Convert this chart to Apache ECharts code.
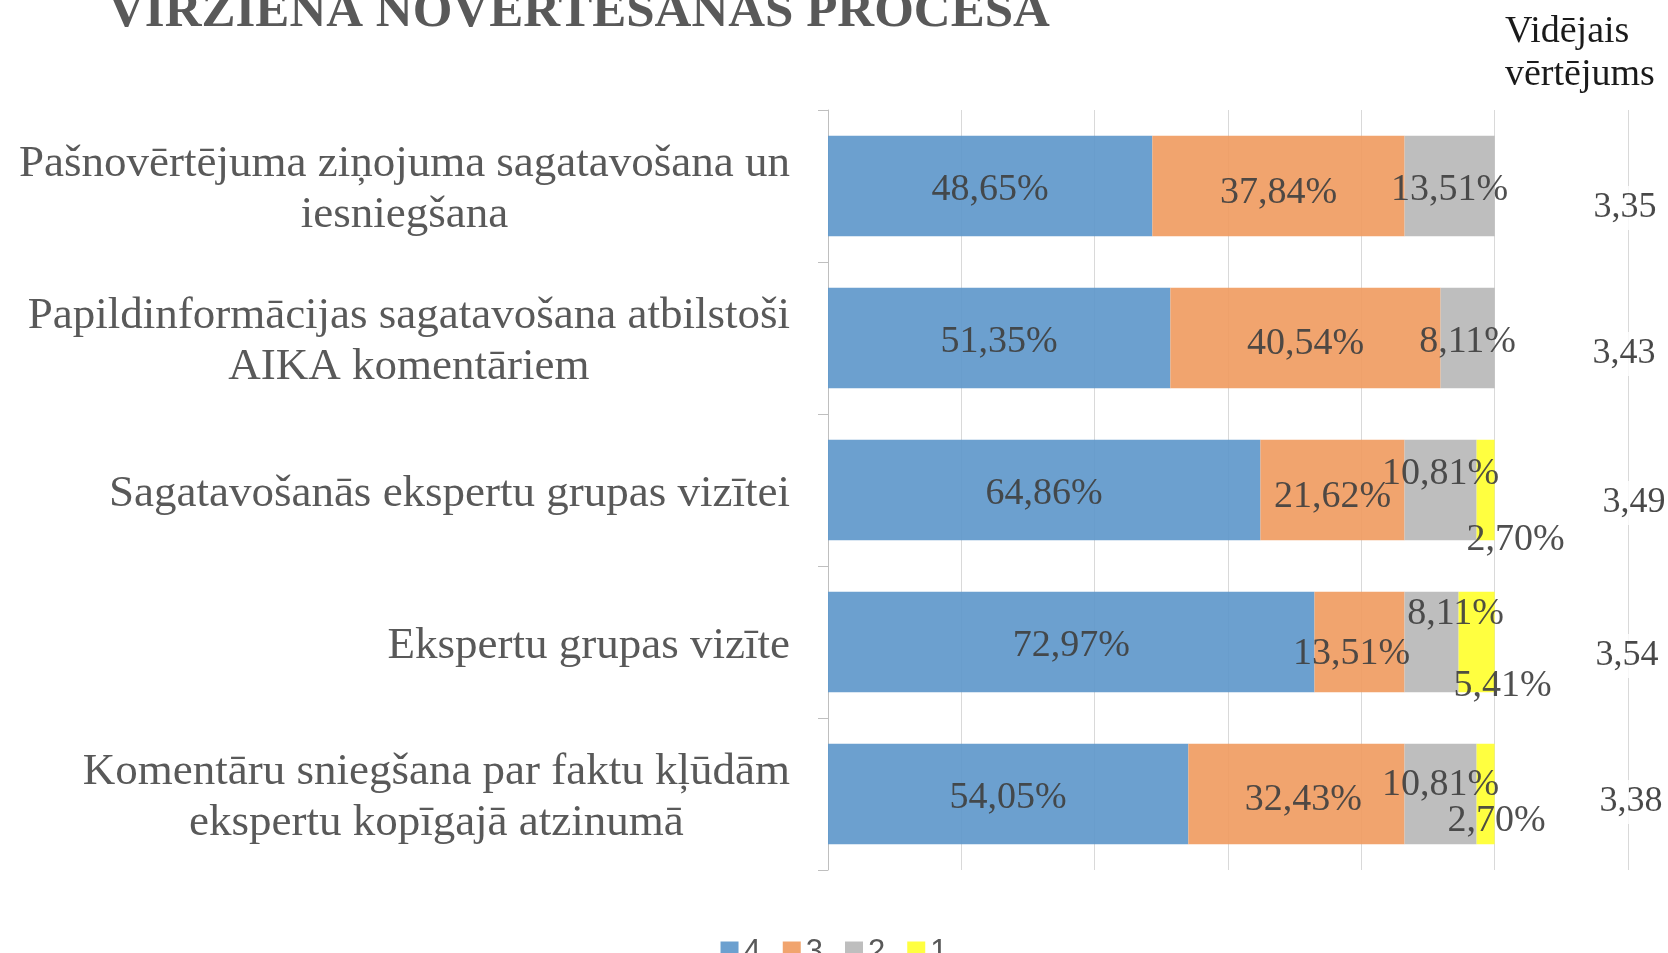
<!DOCTYPE html>
<html>
<head>
<meta charset="utf-8">
<script src="https://cdn.jsdelivr.net/npm/echarts@6/dist/echarts.min.js"></script>
<style>
  html, body { margin: 0; padding: 0; background: #fff; }
  #main { width: 1668px; height: 953px; }
</style>
</head>
<body>
<div id="main"></div>
<script>
// categories, top to bottom
var categories = [
    'Pašnovērtējuma ziņojuma sagatavošana un\niesniegšana',
    'Papildinformācijas sagatavošana atbilstoši\nAIKA komentāriem',
    'Sagatavošanās ekspertu grupas vizītei',
    'Ekspertu grupas vizīte',
    'Komentāru sniegšana par faktu kļūdām\nekspertu kopīgajā atzinumā'
];
var seriesNames = ['4', '3', '2', '1'];
// shares per score, in %
var score4 = [48.65, 51.35, 64.86, 72.97, 54.05];
var score3 = [37.84, 40.54, 21.62, 13.51, 32.43];
var score2 = [13.51, 8.11, 10.81, 8.11, 10.81];
var score1 = [0, 0, 2.70, 5.41, 2.70];
var averages = [3.35, 3.43, 3.49, 3.54, 3.38];

var colors = ['#5f98cb', '#f09c62', '#b9b9b9', '#ffff30'];
var serif = '"Liberation Serif", "Times New Roman", serif';

/* label offsets for the small segments, moved by hand like in the source */
var offsets = [
    [[0, 4], [0, 4], [0, 4], [0, 4], [0, 4]],
    [[0, 7], [0, 6], [0, 7], [-8, 12], [7, 6]],
    [[0, 4], [0, 4], [0, -16], [24, -28], [0, -9]],
    [[0, 0], [0, 0], [30, 50], [26, 44], [11, 27]]
];
var avgOffsets = [[-3, 22], [-4, 16], [6, 13], [-1, 14], [3, 8]];

function fmt(v) {
    return v.toFixed(2).replace('.', ',');
}

var chart = echarts.init(document.getElementById('main'));

var series = [score4, score3, score2, score1].map(function (vals, si) {
    return {
        name: seriesNames[si],
        type: 'bar',
        stack: 'total',
        barCategoryGap: '34%',
        itemStyle: { color: colors[si], opacity: 0.92 },
        data: vals.map(function (v, i) {
            return {
                value: v / 100,
                label: {
                    show: v > 0,
                    offset: offsets[si][i]
                }
            };
        }),
        label: {
            position: 'inside',
            color: '#404040',
            fontFamily: serif,
            fontSize: 38,
            formatter: function (p) { return fmt(p.value * 100) + '%'; }
        }
    };
});

series.push({
    name: 'avg',
    type: 'scatter',
    symbolSize: 0,
    silent: true,
    z: 10,
    data: averages.map(function (v, i) {
        return {
            value: [1.2, categories[i]],
            label: { offset: avgOffsets[i] }
        };
    }),
    label: {
        show: true,
        position: 'inside',
        color: '#1a1a1a',
        fontFamily: serif,
        fontSize: 36,
        backgroundColor: '#fff',
        padding: [4, 2],
        formatter: function (p) { return fmt(averages[p.dataIndex]); }
    }
});

var option = {
    animation: false,
    backgroundColor: '#fff',
    title: {
        text: 'VIRZIENĀ NOVĒRTĒŠANAS PROCESĀ',
        left: 103,
        top: -18,
        textStyle: {
            fontFamily: serif,
            fontWeight: 'bold',
            fontSize: 51,
            color: '#595959'
        }
    },
    graphic: [{
        type: 'text',
        left: 1505,
        top: 11,
        style: {
            text: 'Vidējais\nvērtējums',
            font: '38px ' + serif,
            fill: '#1a1a1a',
            lineHeight: 43
        }
    }],
    legend: {
        data: seriesNames,
        left: 'center',
        top: 932,
        itemWidth: 18,
        itemHeight: 22,
        itemGap: 22,
        icon: 'rect',
        textStyle: {
            fontFamily: '"Liberation Sans", Arial, sans-serif',
            fontSize: 31,
            color: '#595959'
        }
    },
    grid: {
        left: 828,
        right: 40,
        top: 110,
        bottom: 83
    },
    xAxis: {
        type: 'value',
        min: 0,
        max: 1.2,
        interval: 0.2,
        axisLabel: { show: false },
        axisLine: { show: false },
        axisTick: { show: false },
        splitLine: { lineStyle: { color: '#d9d9d9', width: 1 } }
    },
    yAxis: {
        type: 'category',
        inverse: true,
        data: categories,
        axisLine: { lineStyle: { color: '#bfbfbf' } },
        axisTick: { show: true, length: 10, lineStyle: { color: '#bfbfbf' } },
        axisLabel: {
            margin: 38,
            lineHeight: 51,
            padding: [8, 0, 0, 0],
            formatter: function (v) {
                return v.split('\n').map(function (l) { return '{c|' + l + '}'; }).join('\n');
            },
            rich: {
                c: {
                    align: 'center',
                    fontFamily: serif,
                    fontSize: 45,
                    lineHeight: 51,
                    color: '#595959'
                }
            }
        }
    },
    series: series
};

chart.setOption(option);
</script>
</body>
</html>
